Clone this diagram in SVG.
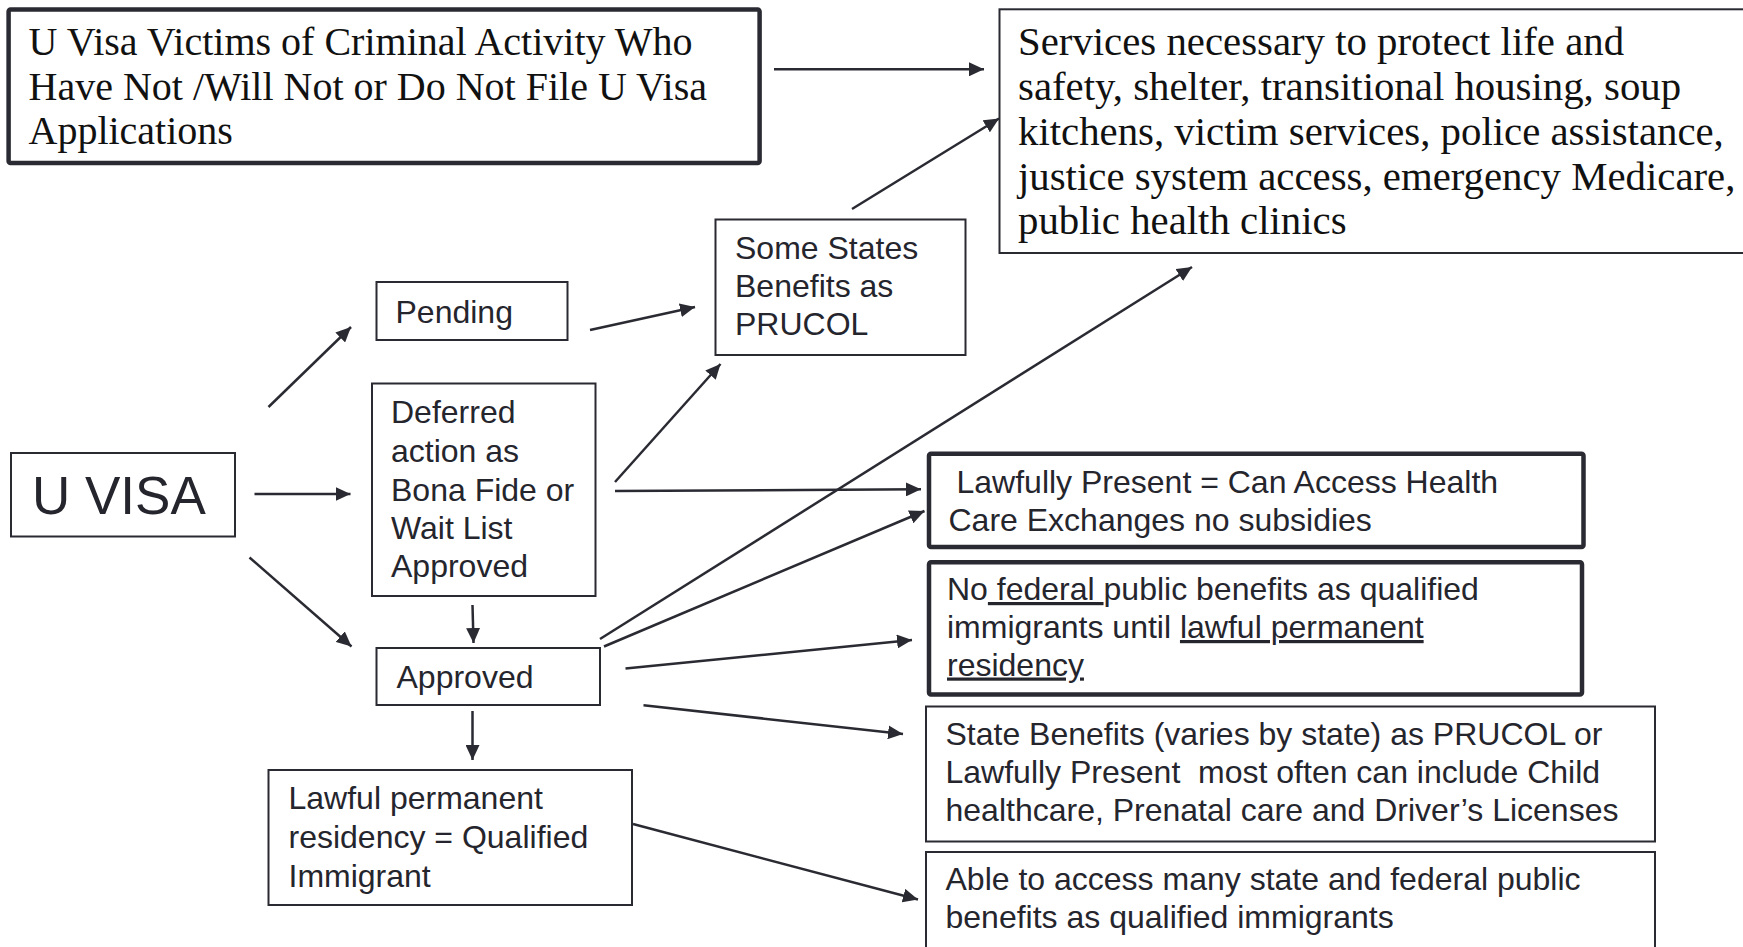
<svg xmlns="http://www.w3.org/2000/svg" width="1743" height="947" viewBox="0 0 1743 947">
  <style>
    .box { fill: #ffffff; stroke: #2a2a33; stroke-width: 2; }
    .thick { fill: #ffffff; stroke: #2a2a33; stroke-width: 4.5; }
    .sans { font-family: "Liberation Sans", Arial, sans-serif; font-size: 32px; fill: #25252d; }
    .serif { font-family: "Liberation Serif", "Times New Roman", serif; font-size: 40px; fill: #111111; }
    .serif.wide { font-size: 40.8px; }
    .big { font-size: 53px; }
    .u { text-decoration: underline; }
    .conn line { stroke: #2a2a33; stroke-width: 2.5; marker-end: url(#arrow); }
  </style>
  <defs>
    <marker id="arrow" markerUnits="userSpaceOnUse" markerWidth="16" markerHeight="14" refX="15" refY="7" orient="auto">
      <path d="M0,0 L15,7 L0,14 Z" fill="#2a2a33"/>
    </marker>
  </defs>
  <rect width="1743" height="947" fill="#ffffff"/>

  <!-- boxes -->
  <g id="not-filed">
    <rect class="thick" x="8.6" y="9.5" width="751" height="153.5" rx="2"/>
    <text class="serif" x="28.5" y="55">U Visa Victims of Criminal Activity Who</text>
    <text class="serif" x="28.5" y="99.5">Have Not /Will Not or Do Not File U Visa</text>
    <text class="serif" x="28.5" y="143.5">Applications</text>
  </g>

  <g id="services">
    <rect class="box" x="999.5" y="9.3" width="760" height="243.7"/>
    <text class="serif wide" x="1018" y="55">Services necessary to protect life and</text>
    <text class="serif wide" x="1018" y="100">safety, shelter, transitional housing, soup</text>
    <text class="serif wide" x="1018" y="145">kitchens, victim services, police assistance,</text>
    <text class="serif wide" x="1018" y="189.5">justice system access, emergency Medicare,</text>
    <text class="serif wide" x="1018" y="234">public health clinics</text>
  </g>

  <g id="some-states">
    <rect class="box" x="715.5" y="219.5" width="250" height="135.5"/>
    <text class="sans" x="735" y="259">Some States</text>
    <text class="sans" x="735" y="297">Benefits as</text>
    <text class="sans" x="735" y="335">PRUCOL</text>
  </g>

  <g id="pending">
    <rect class="box" x="376.5" y="282" width="191" height="58"/>
    <text class="sans" x="395.5" y="323">Pending</text>
  </g>

  <g id="deferred">
    <rect class="box" x="372" y="383.5" width="223.5" height="212.5"/>
    <text class="sans" x="391" y="423">Deferred</text>
    <text class="sans" x="391" y="462">action as</text>
    <text class="sans" x="391" y="500.5">Bona Fide or</text>
    <text class="sans" x="391" y="539">Wait List</text>
    <text class="sans" x="391" y="577">Approved</text>
  </g>

  <g id="u-visa">
    <rect class="box" x="11" y="453" width="224" height="83.5"/>
    <text class="sans big" x="32" y="513.5">U VISA</text>
  </g>

  <g id="approved">
    <rect class="box" x="376.5" y="648" width="223.5" height="57"/>
    <text class="sans" x="396.5" y="688">Approved</text>
  </g>

  <g id="lpr">
    <rect class="box" x="268.5" y="770" width="363.5" height="135"/>
    <text class="sans" x="288.5" y="809">Lawful permanent</text>
    <text class="sans" x="288.5" y="848">residency = Qualified</text>
    <text class="sans" x="288.5" y="886.5">Immigrant</text>
  </g>

  <g id="lawfully-present">
    <rect class="thick" x="929" y="453.8" width="654.5" height="93.2" rx="2"/>
    <text class="sans" x="956.5" y="493">Lawfully Present = Can Access Health</text>
    <text class="sans" x="948.5" y="530.5">Care Exchanges no subsidies</text>
  </g>

  <g id="no-federal">
    <rect class="thick" x="929" y="562.2" width="653" height="132.3" rx="2"/>
    <text class="sans" x="947" y="600">No<tspan class="u"> federal </tspan>public benefits as qualified</text>
    <text class="sans" x="947" y="638">immigrants until <tspan class="u">lawful permanent</tspan></text>
    <text class="sans" x="947" y="675.5"><tspan class="u">residency</tspan></text>
  </g>

  <g id="state-benefits">
    <rect class="box" x="926" y="706.5" width="729" height="135"/>
    <text class="sans" x="945.5" y="745">State Benefits (varies by state) as PRUCOL or</text>
    <text class="sans" x="945.5" y="783" xml:space="preserve">Lawfully Present  most often can include Child</text>
    <text class="sans" x="945.5" y="820.5">healthcare, Prenatal care and Driver’s Licenses</text>
  </g>

  <g id="qualified-benefits">
    <rect class="box" x="926" y="852" width="729" height="110"/>
    <text class="sans" x="945.5" y="890">Able to access many state and federal public</text>
    <text class="sans" x="945.5" y="928">benefits as qualified immigrants</text>
  </g>

  <!-- connectors -->
  <g id="connectors" class="conn">
    <line x1="774" y1="69.3" x2="984" y2="69.3"/>
    <line x1="852" y1="209" x2="999" y2="118.5"/>
    <line x1="590" y1="330" x2="695" y2="307"/>
    <line x1="268.5" y1="407" x2="351" y2="327"/>
    <line x1="254.5" y1="494" x2="350.5" y2="494"/>
    <line x1="249.5" y1="557.5" x2="351.5" y2="646.5"/>
    <line x1="472.5" y1="605" x2="473.5" y2="643"/>
    <line x1="472.5" y1="711" x2="472.5" y2="760"/>
    <line x1="615" y1="482" x2="720.5" y2="364"/>
    <line x1="615" y1="491" x2="921" y2="489.3"/>
    <line x1="600" y1="639" x2="1192" y2="267"/>
    <line x1="604" y1="646.5" x2="924.5" y2="511"/>
    <line x1="625.5" y1="668.5" x2="912" y2="640"/>
    <line x1="643.5" y1="705.3" x2="903" y2="734"/>
    <line x1="633" y1="824" x2="918" y2="899.5"/>
  </g>
</svg>
